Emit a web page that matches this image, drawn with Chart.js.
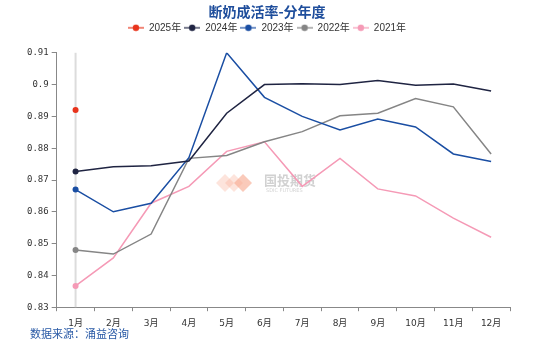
<!DOCTYPE html>
<html>
<head>
<meta charset="utf-8">
<script src="https://cdn.jsdelivr.net/npm/chart.js@4"></script>
<style>
  html, body { margin: 0; padding: 0; background: #fff; }
  #wrap { width: 550px; height: 344px; }
</style>
</head>
<body>
<div id="wrap"><canvas id="myChart" width="550" height="344"></canvas></div>
<script>
const months = ['1月','2月','3月','4月','5月','6月','7月','8月','9月','10月','11月','12月'];
const seriesNames = ['2025年','2024年','2023年','2022年','2021年'];
const colors = ['#e8341c','#1f2442','#1a4ea3','#858585','#f59ab6'];

const v2025 = [0.892];
const v2024 = [0.8727,0.8742,0.8745,0.876,0.891,0.900,0.9003,0.900,0.9013,0.8998,0.9002,0.898];
const v2023 = [0.867,0.860,0.8627,0.877,0.910,0.896,0.890,0.8857,0.8892,0.8867,0.8782,0.8758];
const v2022 = [0.848,0.8467,0.853,0.8768,0.8777,0.882,0.8852,0.8902,0.891,0.8956,0.893,0.8782];
const v2021 = [0.8367,0.8455,0.8627,0.868,0.879,0.882,0.868,0.8768,0.8672,0.865,0.858,0.852];
const allValues = [v2025, v2024, v2023, v2022, v2021];

const yTicks = [0.83,0.84,0.85,0.86,0.87,0.88,0.89,0.9,0.91];

// little line+dot icon for the legend
function legendIcon(color) {
  const c = document.createElement('canvas');
  c.width = 16; c.height = 8;
  const g = c.getContext('2d');
  g.strokeStyle = color; g.lineWidth = 1.2;
  g.beginPath(); g.moveTo(0, 4); g.lineTo(16, 4); g.stroke();
  g.fillStyle = color;
  g.beginPath(); g.arc(8, 4, 3.2, 0, Math.PI * 2); g.fill();
  return c;
}
const icons = colors.map(legendIcon);

const extras = {
  id: 'extras',
  beforeLayout(chart) {
    // a bit more room under the legend
    const lg = chart.legend;
    if (lg && !lg._padded) {
      const fit = lg.fit.bind(lg);
      lg.fit = function () { fit(); this.height += 10; };
      lg._padded = true;
    }
  },
  beforeDatasetsDraw(chart) {
    const {ctx, chartArea, scales} = chart;
    const x0 = scales.x.getPixelForValue(0);
    ctx.save();
    ctx.strokeStyle = '#dcdcdc';
    ctx.lineWidth = 2;
    ctx.beginPath(); ctx.moveTo(x0, chartArea.top); ctx.lineTo(x0, chartArea.bottom); ctx.stroke();
    // watermark
    ctx.fillStyle = '#f7a68c';
    const wx = 243, wy = 183;
    ctx.globalAlpha = 0.6;
    ctx.beginPath(); ctx.moveTo(wx, wy - 9); ctx.lineTo(wx + 9, wy); ctx.lineTo(wx, wy + 9); ctx.lineTo(wx - 9, wy); ctx.fill();
    ctx.globalAlpha = 0.3;
    ctx.beginPath(); ctx.moveTo(wx - 9, wy - 9); ctx.lineTo(wx, wy); ctx.lineTo(wx - 9, wy + 9); ctx.lineTo(wx - 18, wy); ctx.fill();
    ctx.beginPath(); ctx.moveTo(wx - 18, wy - 9); ctx.lineTo(wx - 9, wy); ctx.lineTo(wx - 18, wy + 9); ctx.lineTo(wx - 27, wy); ctx.fill();
    ctx.globalAlpha = 0.45;
    ctx.fillStyle = '#9a9a9a';
    ctx.font = 'bold 13px "Noto Sans CJK SC"';
    ctx.textBaseline = 'middle';
    ctx.fillText('国投期货', 264, 180);
    ctx.font = '5px "DejaVu Sans"';
    ctx.fillText('SDIC FUTURES', 266, 191);
    ctx.restore();
  },
  afterDraw(chart) {
    const {ctx} = chart;
    ctx.save();
    ctx.fillStyle = '#2a5aa6';
    ctx.font = '11px "Noto Sans CJK SC"';
    ctx.textBaseline = 'middle';
    ctx.fillText('数据来源：涌益咨询', 30, 334);
    ctx.restore();
  }
};

const ctxt = document.getElementById('myChart').getContext('2d');
const myChart = new Chart(ctxt, {
  type: 'line',
  data: {
    labels: months,
    datasets: allValues.map((vals, i) => ({
      label: seriesNames[i],
      data: vals,
      borderColor: colors[i],
      backgroundColor: colors[i],
      borderWidth: 1.5,
      pointRadius: (c) => c.dataIndex === 0 ? 3 : 0,
      pointBorderWidth: 0,
      tension: 0,
      fill: false
    }))
  },
  options: {
    responsive: false,
    animation: false,
    layout: { padding: { left: 24, right: 40, top: 0, bottom: 8 } },
    plugins: {
      title: {
        display: true,
        text: '断奶成活率-分年度',
        color: '#1f4e9c',
        font: { size: 14, weight: 'bold', family: '"Noto Sans CJK SC"' },
        padding: { top: 3, bottom: 0 }
      },
      legend: {
        display: true,
        labels: {
          usePointStyle: true,
          pointStyleWidth: 16,
          boxHeight: 8,
          padding: 3,
          color: '#333',
          font: { size: 10, family: '"Liberation Sans", "Noto Sans CJK SC"' },
          generateLabels(chart) {
            const items = Chart.defaults.plugins.legend.labels.generateLabels(chart);
            items.forEach((it, i) => { it.pointStyle = icons[i]; });
            return items;
          }
        }
      },
      tooltip: { enabled: false }
    },
    scales: {
      x: {
        offset: true,
        grid: { drawOnChartArea: false, offset: true, tickLength: 4, color: '#888' },
        border: { color: '#888' },
        ticks: { color: '#333', font: { size: 9, family: '"DejaVu Sans", "Noto Sans CJK SC"' }, padding: 7, maxRotation: 0 }
      },
      y: {
        min: yTicks[0],
        max: yTicks[yTicks.length - 1],
        afterBuildTicks(axis) { axis.ticks = yTicks.map(v => ({ value: v })); },
        grid: { drawOnChartArea: false, tickLength: 5, color: '#888' },
        border: { color: '#888' },
        ticks: {
          color: '#333',
          font: { size: 9, family: '"DejaVu Sans Mono"' },
          padding: 3,
          callback: (v) => String(Math.round(v * 100) / 100)
        }
      }
    }
  },
  plugins: [extras]
});
</script>
</body>
</html>
